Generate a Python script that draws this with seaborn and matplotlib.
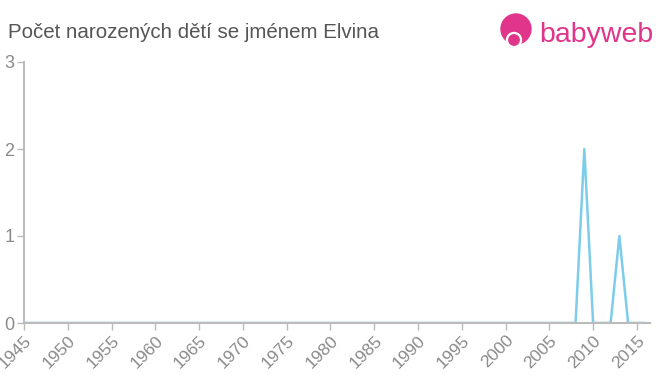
import matplotlib
matplotlib.use("Agg")
import matplotlib.pyplot as plt
import seaborn as sns
import pandas as pd
from matplotlib.patches import Circle

years = list(range(1945, 2017))
counts = [0] * len(years)
counts[years.index(2009)] = 2
counts[years.index(2013)] = 1
xticks = list(range(1945, 2016, 5))
yticks = [0, 1, 2, 3]

df = pd.DataFrame({"rok": years, "pocet": counts})

sns.set_theme(style="white")
plt.rcParams['font.family'] = ['Liberation Sans', 'DejaVu Sans']

fig = plt.figure(figsize=(6.6, 3.75), dpi=100)
ax = fig.add_axes([24/660, 52/375, 626/660, 261/375])
sns.lineplot(data=df, x="rok", y="pocet", ax=ax, color="#7dcdea", linewidth=1.8)

ax.set_xlim(1945, 2016.5)
ax.set_ylim(0, 3)
ax.set_xticks(xticks)
ax.set_xticklabels([str(t) for t in xticks], rotation=45, ha="right",
                   rotation_mode="anchor", color="#8a8a8a", fontsize=12.5)
ax.set_yticks(yticks)
ax.set_yticklabels([str(t) for t in yticks], color="#8a8a8a", fontsize=13)
ax.set_xlabel("")
ax.set_ylabel("")
for s in ["top", "right"]:
    ax.spines[s].set_visible(False)
for s in ["left", "bottom"]:
    ax.spines[s].set_color("#bbbbbb")
    ax.spines[s].set_linewidth(1.5)
ax.tick_params(axis="both", which="both", length=5, width=1, color="#bbbbbb",
               direction="out", bottom=True, left=True, pad=2)
ax.grid(False)

fig.text(8/660, 1 - 32/375, "Počet narozených dětí se jménem Elvina",
         fontsize=14.8, color="#555555", va="center", ha="left")

# logo
pink = "#e0358a"
fig.text(539/660, 1 - 35/375, "babyweb", fontsize=20.5, color=pink,
         va="center", ha="left")
lax = fig.add_axes([498/660, 1 - 50/375, 36/660, 38/375])
lax.set_xlim(0, 36)
lax.set_ylim(0, 38)
lax.set_aspect("equal")
lax.axis("off")
lax.add_patch(Circle((18, 21), 15, color=pink))
lax.add_patch(Circle((16, 10), 7.5, color="white"))
lax.add_patch(Circle((16, 10), 5.2, color=pink))

fig.savefig("out.png", dpi=100)
